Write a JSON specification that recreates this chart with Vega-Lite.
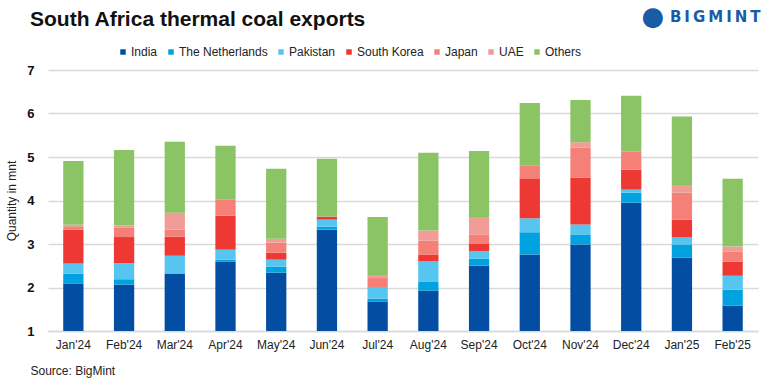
{
  "$schema": "https://vega.github.io/schema/vega-lite/v6.json",
  "autosize": "none",
  "width": 710,
  "height": 261,
  "padding": {"left": 48, "top": 70, "right": 11, "bottom": 57},
  "background": "white",
  "title": {
    "text": "South Africa thermal coal exports",
    "anchor": "start",
    "frame": "group",
    "dx": -18,
    "dy": 26,
    "font": "Liberation Sans",
    "fontSize": 21,
    "fontWeight": "bold",
    "color": "#111111",
    "offset": 0
  },
  "config": {
    "view": {"stroke": null},
    "font": "Liberation Sans"
  },
  "data": {
    "values": [
      {"month": "Jan'24", "India": 2.09, "The Netherlands": 0.23, "Pakistan": 0.23, "South Korea": 0.78, "Japan": 0.06, "UAE": 0.05, "Others": 1.47},
      {"month": "Feb'24", "India": 2.07, "The Netherlands": 0.12, "Pakistan": 0.37, "South Korea": 0.60, "Japan": 0.21, "UAE": 0.06, "Others": 1.73},
      {"month": "Mar'24", "India": 2.32, "The Netherlands": 0.0, "Pakistan": 0.41, "South Korea": 0.44, "Japan": 0.16, "UAE": 0.39, "Others": 1.63},
      {"month": "Apr'24", "India": 2.59, "The Netherlands": 0.05, "Pakistan": 0.23, "South Korea": 0.78, "Japan": 0.37, "UAE": 0.0, "Others": 1.24},
      {"month": "May'24", "India": 2.34, "The Netherlands": 0.14, "Pakistan": 0.16, "South Korea": 0.16, "Japan": 0.23, "UAE": 0.09, "Others": 1.61},
      {"month": "Jun'24", "India": 3.33, "The Netherlands": 0.07, "Pakistan": 0.16, "South Korea": 0.07, "Japan": 0.0, "UAE": 0.0, "Others": 1.33},
      {"month": "Jul'24", "India": 1.67, "The Netherlands": 0.07, "Pakistan": 0.25, "South Korea": 0.0, "Japan": 0.23, "UAE": 0.07, "Others": 1.33},
      {"month": "Aug'24", "India": 1.93, "The Netherlands": 0.21, "Pakistan": 0.46, "South Korea": 0.16, "Japan": 0.32, "UAE": 0.23, "Others": 1.79},
      {"month": "Sep'24", "India": 2.50, "The Netherlands": 0.16, "Pakistan": 0.18, "South Korea": 0.16, "Japan": 0.21, "UAE": 0.41, "Others": 1.52},
      {"month": "Oct'24", "India": 2.76, "The Netherlands": 0.51, "Pakistan": 0.32, "South Korea": 0.92, "Japan": 0.30, "UAE": 0.0, "Others": 1.43},
      {"month": "Nov'24", "India": 2.99, "The Netherlands": 0.23, "Pakistan": 0.23, "South Korea": 1.08, "Japan": 0.69, "UAE": 0.12, "Others": 0.97},
      {"month": "Dec'24", "India": 3.95, "The Netherlands": 0.23, "Pakistan": 0.07, "South Korea": 0.46, "Japan": 0.41, "UAE": 0.0, "Others": 1.29},
      {"month": "Jan'25", "India": 2.69, "The Netherlands": 0.30, "Pakistan": 0.16, "South Korea": 0.41, "Japan": 0.62, "UAE": 0.16, "Others": 1.59},
      {"month": "Feb'25", "India": 1.58, "The Netherlands": 0.37, "Pakistan": 0.32, "South Korea": 0.32, "Japan": 0.23, "UAE": 0.12, "Others": 1.56}
    ]
  },
  "layer": [
    {
      "transform": [
        {"fold": ["India", "The Netherlands", "Pakistan", "South Korea", "Japan", "UAE", "Others"], "as": ["country", "value"]},
        {"window": [{"op": "row_number", "as": "stackpos"}], "groupby": ["month"]}
      ],
      "mark": {"type": "bar", "clip": true},
      "encoding": {
        "x": {
          "field": "month",
          "type": "nominal",
          "sort": null,
          "scale": {"paddingInner": 0.6, "paddingOuter": 0.3},
          "axis": {
            "title": "Source: BigMint",
            "titleAnchor": "start",
            "titleAlign": "left",
            "titleX": -18,
            "titleY": 43,
            "titleBaseline": "alphabetic",
            "titleFont": "Liberation Sans",
            "titleFontSize": 12,
            "titleFontWeight": "normal",
            "titleColor": "#222222",
            "labelAngle": 0,
            "labelFont": "Liberation Sans",
            "labelFontSize": 12,
            "labelColor": "#222222",
            "labelPadding": 8,
            "ticks": false,
            "domainColor": "#d9d9d9",
            "domainWidth": 1.5
          }
        },
        "y": {
          "field": "value",
          "type": "quantitative",
          "stack": "zero",
          "scale": {"domain": [1, 7], "nice": false, "zero": false},
          "axis": {
            "title": "Quantity in mnt",
            "titleFont": "Liberation Sans",
            "titleFontSize": 12,
            "titleFontWeight": "normal",
            "titleColor": "#222222",
            "titlePadding": 8,
            "values": [1, 2, 3, 4, 5, 6, 7],
            "labelFont": "Liberation Sans",
            "labelFontSize": 13,
            "labelFontWeight": "bold",
            "labelColor": "#111111",
            "labelPadding": 14,
            "ticks": false,
            "domain": false,
            "gridColor": "#d9d9d9",
            "gridWidth": 1.5
          }
        },
        "order": {"field": "stackpos", "type": "quantitative", "sort": "ascending"},
        "color": {
          "field": "country",
          "type": "nominal",
          "scale": {
            "domain": ["India", "The Netherlands", "Pakistan", "South Korea", "Japan", "UAE", "Others"],
            "range": ["#034EA2", "#00A3E0", "#56C5F0", "#EE3833", "#F58078", "#F19D97", "#8AC465"]
          },
          "legend": {
            "title": null,
            "orient": "none",
            "direction": "horizontal",
            "legendX": 69,
            "legendY": -24,
            "symbolType": "square",
            "symbolSize": 30,
            "symbolStrokeWidth": 0,
            "labelFont": "Liberation Sans",
            "labelFontSize": 12,
            "labelColor": "#222222",
            "labelOffset": 2,
            "columnPadding": 7
          }
        }
      }
    },
    {
      "data": {"values": [{"logo": "●"}]},
      "mark": {"type": "text", "align": "center", "baseline": "middle", "fontSize": 26, "font": "DejaVu Sans", "color": "#1A5BA6", "dx": -29},
      "encoding": {
        "x": {"datum": "Jan'25"},
        "y": {"datum": 8.22},
        "text": {"field": "logo"}
      }
    },
    {
      "data": {"values": [{"logo": "B\u2009I\u2009G\u2009M\u2009I\u2009N\u2009T"}]},
      "mark": {"type": "text", "align": "left", "baseline": "middle", "fontSize": 15, "font": "DejaVu Sans", "fontWeight": "bold", "color": "#1A5BA6", "dx": -12},
      "encoding": {
        "x": {"datum": "Jan'25"},
        "y": {"datum": 8.22},
        "text": {"field": "logo"}
      }
    }
  ]
}
